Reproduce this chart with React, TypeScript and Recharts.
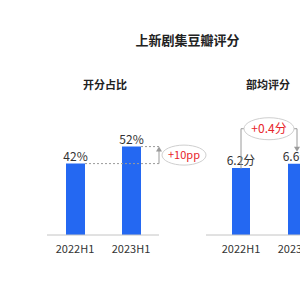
import React from "react";
import { Bar, BarChart, LabelList, XAxis, YAxis } from "recharts";

const periods = ["2022H1", "2023H1"];
const openShare = [42, 52];
const avgScore = [6.2, 6.6];

const blue = "#2468f2";
const red = "#e8252b";
const gray = "#9a9a9a";
const font = '"Noto Sans CJK SC", "Noto Sans", sans-serif';

const shareData = periods.map((p, i) => ({ period: p, value: openShare[i] }));
const scoreData = periods.map((p, i) => ({ period: p, value: avgScore[i] }));

// bracket on the right of the 2023 bar, drawn from the bar's own geometry
function ShareNote(props: any) {
  const { x, y, width, height, index } = props;
  if (index !== 1) return null;
  const y1 = y + height * (1 - openShare[0] / openShare[1]);
  const right = x + width;
  const bx = right + 18;
  const cx = bx + 25;
  return (
    <g>
      <line x1={x - 37} x2={bx} y1={y1} y2={y1} stroke={gray} strokeDasharray="2 2" />
      <line x1={right} x2={bx} y1={y} y2={y} stroke={gray} strokeDasharray="2 2" />
      <line x1={bx} x2={bx} y1={y1} y2={y + 3} stroke={gray} />
      <polygon points={`${bx - 3},${y + 5} ${bx + 3},${y + 5} ${bx},${y}`} fill={gray} />
      <ellipse cx={cx} cy={(y + y1) / 2} rx={22} ry={10} fill="#fff" stroke="#cfcfcf" />
      <text x={cx} y={(y + y1) / 2 + 4} textAnchor="middle" fill={red} fontSize={11} fontFamily={font}>
        +10pp
      </text>
    </g>
  );
}

function ScoreNote(props: any) {
  const { x, width, index, y } = props;
  if (index !== 1) return null;
  const c2 = x + width / 2;
  const c1 = c2 - 56;
  const top = y - 35;
  return (
    <g>
      <polyline points={`${c1},${y + 5} ${c1},${top} ${c2},${top} ${c2},${y - 14}`} fill="none" stroke={gray} />
      <polygon points={`${c2 - 3},${y - 17} ${c2 + 3},${y - 17} ${c2},${y - 12}`} fill={gray} />
      <ellipse cx={(c1 + c2) / 2} cy={top} rx={25} ry={11} fill="#fff" stroke="#cfcfcf" />
      <text x={(c1 + c2) / 2} y={top + 4} textAnchor="middle" fill={red} fontSize={12} fontFamily={font}>
        +0.4分
      </text>
    </g>
  );
}

const tick = { fill: "#333", fontSize: 11, fontFamily: font };

export default function App() {
  return (
    <div style={{ position: "absolute", left: 0, top: 0, width: 300, height: 300, overflow: "hidden", background: "#fff", fontFamily: font }}>
      <div style={{ position: "absolute", left: 0, width: 375, top: 30, textAlign: "center", fontSize: 13, fontWeight: 700, color: "#222" }}>
        上新剧集豆瓣评分
      </div>
      <div style={{ position: "absolute", left: 60, width: 90, top: 76, textAlign: "center", fontSize: 11, fontWeight: 700, color: "#222" }}>
        开分占比
      </div>
      <div style={{ position: "absolute", left: 223, width: 90, top: 76, textAlign: "center", fontSize: 11, fontWeight: 700, color: "#222" }}>
        部均评分
      </div>
      <div style={{ position: "absolute", left: 0, top: 0 }}>
        <BarChart width={230} height={300} data={shareData} margin={{ top: 133, right: 71, bottom: 35, left: 47 }}>
          <XAxis dataKey="period" axisLine={{ stroke: "#c4c4c4" }} tickLine={false} tick={tick} tickMargin={4} height={30} />
          <YAxis hide domain={[0, 60]} />
          <Bar dataKey="value" fill={blue} barSize={19} isAnimationActive={false}>
            <LabelList dataKey="value" position="top" offset={3} formatter={(v: any) => `${v}%`} style={{ fill: "#333", fontSize: 12, fontFamily: font }} />
            <LabelList dataKey="value" content={ShareNote} />
          </Bar>
        </BarChart>
      </div>
      <div style={{ position: "absolute", left: 206, top: 0 }}>
        <BarChart width={126} height={300} data={scoreData} margin={{ top: 127, right: 0, bottom: 35, left: 0 }}>
          <XAxis dataKey="period" axisLine={{ stroke: "#c4c4c4" }} tickLine={false} tick={tick} tickMargin={4} height={30} padding={{ left: 7, right: 7 }} />
          <YAxis hide domain={[0, 10]} />
          <Bar dataKey="value" fill={blue} barSize={18} isAnimationActive={false}>
            <LabelList dataKey="value" position="top" offset={3} formatter={(v: any) => `${v}分`} style={{ fill: "#333", fontSize: 12, fontFamily: font }} />
            <LabelList dataKey="value" content={ScoreNote} />
          </Bar>
        </BarChart>
      </div>
    </div>
  );
}
